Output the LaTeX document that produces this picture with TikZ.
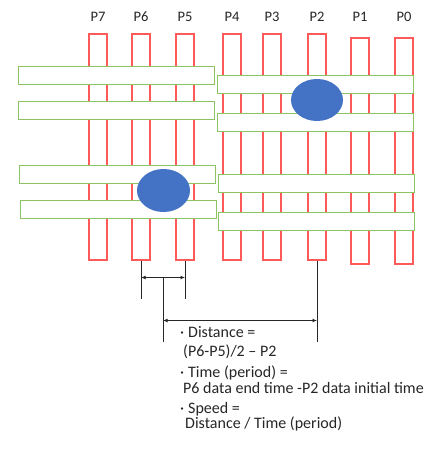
\documentclass[tikz,border=0pt]{standalone}
\usepackage{fontspec}
\setmainfont{Carlito}
\usetikzlibrary{arrows.meta,shapes.geometric,calc}
\definecolor{pinred}{RGB}{255,90,90}
\definecolor{lgreen}{RGB}{140,196,100}
\definecolor{oblue}{RGB}{68,114,196}
\begin{document}
\begin{tikzpicture}[x=1pt,y=-1pt,
 redbar/.style={draw=pinred, line width=1.5pt, minimum width=18pt, minimum height=226pt, inner sep=0, anchor=north},
 greenbar/.style={draw=lgreen, fill=white, line width=1.3pt, inner sep=0, minimum width=196pt, minimum height=18pt, anchor=north west},
 blob/.style={ellipse, fill=oblue, inner sep=0},
 dim/.style={line width=0.9pt, draw=black!85},
 dimarr/.style={dim, {Latex[length=4.5pt,width=4pt]}-{Latex[length=4.5pt,width=4pt]}},
 lbl/.style={font=\fontsize{14.5}{16}\selectfont, text=black!85},
 txt/.style={font=\fontsize{16}{18}\selectfont, text=black!85, anchor=west, inner sep=0}]
\useasboundingbox (0,0) rectangle (434,458);
% red bars
\node[redbar] (p7) at (98,33) {};
\node[redbar] (p6) at (141,33) {};
\node[redbar] (p5) at (185,33) {};
\node[redbar] (p4) at (232,33) {};
\node[redbar] (p3) at (272,33) {};
\node[redbar] (p2) at (317,33) {};
\node[redbar] (p1) at (360,37) {};
\node[redbar] (p0) at (404,37) {};
% labels
\node[lbl] (t7) at (98,17) {P7};
\node[lbl] (t6) at (141,17) {P6};
\node[lbl] (t5) at (185,17) {P5};
\node[lbl] (t4) at (232,17) {P4};
\node[lbl] (t3) at (272,17) {P3};
\node[lbl] (t2) at (317,17) {P2};
\node[lbl] (t1) at (360,17) {P1};
\node[lbl] (t0) at (404,17) {P0};
% green bars
\node[greenbar] (g1) at (18,66) {};
\node[greenbar] (g2) at (18,101) {};
\node[greenbar] (g3) at (19,165) {};
\node[greenbar] (g4) at (20,200) {};
\node[greenbar] (h1) at (217,75) {};
\node[greenbar] (h2) at (217,113) {};
\node[greenbar] (h3) at (218,174) {};
\node[greenbar] (h4) at (218,212) {};
% blobs
\node[blob, minimum width=53pt, minimum height=43pt] (e1) at (163.5,190.5) {};
\node[blob, minimum width=52pt, minimum height=42pt] (e2) at (317,100) {};
% dimension lines
\draw[dim] (p6.south) -- ++(0,38);
\draw[dim] (p5.south) -- ++(0,38);
\path (p6.south) ++(0,17) coordinate (l1);
\path (p5.south) ++(0,17) coordinate (r1);
\draw[dimarr] (l1) -- (r1);
\coordinate (m) at ($(l1)!0.5!(r1)$);
\draw[dim] (m) -- ++(0,64);
\path (m) ++(0,43) coordinate (m2);
\draw[dim] (p2.south) -- ++(0,81);
\path (p2.south) ++(0,60) coordinate (r2);
\draw[dimarr] (m2) -- (r2);
% text
\node[txt] (d1) at (176,332) {\makebox[12pt][c]{·}Distance =};
\node[txt] (d2) at (183,352) {(P6-P5)/2 – P2};
\node[txt] (d3) at (176,373) {\makebox[12pt][c]{·}Time (period) =};
\node[txt] (d4) at (183,388) {P6 data end time -P2 data initial time};
\node[txt] (d5) at (176,409) {\makebox[12pt][c]{·}Speed =};
\node[txt] (d6) at (185,424) {Distance / Time (period)};
\end{tikzpicture}
\end{document}
